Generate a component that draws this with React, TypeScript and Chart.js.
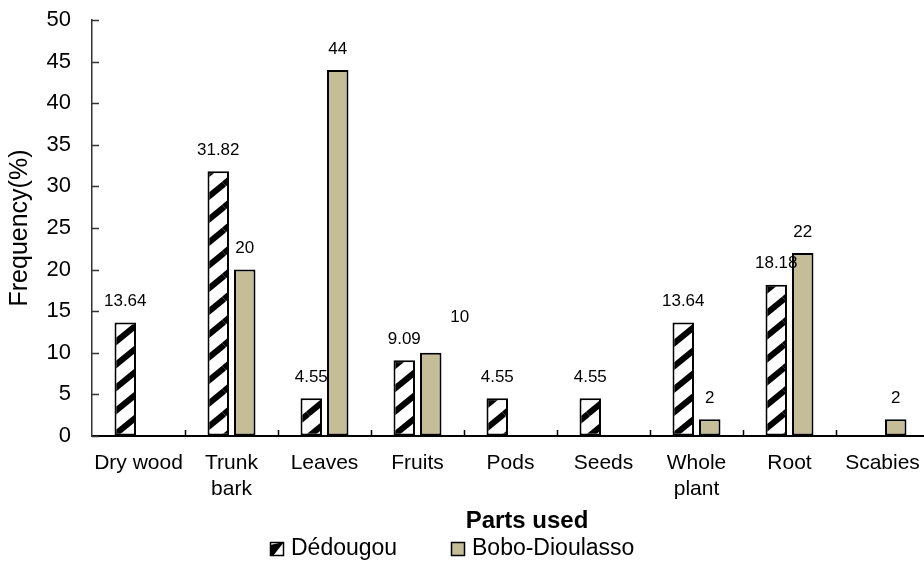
import React, { useEffect, useRef } from "react";
import { Chart, registerables } from "chart.js";

Chart.register(...registerables);

const categories = ["Dry wood", "Trunk\nbark", "Leaves", "Fruits", "Pods", "Seeds", "Whole\nplant", "Root", "Scabies"];
const dedougou: (number | null)[] = [13.64, 31.82, 4.55, 9.09, 4.55, 4.55, 13.64, 18.18, null];
const bobo: (number | null)[] = [null, 20, 44, 10, null, null, 2, 22, 2];
const seriesNames = ["Dédougou", "Bobo-Dioulasso"];
const yMin = 0;
const yMax = 50;
const yStep = 5;
const xTitle = "Parts used";
const yTitle = "Frequency(%)";

const FONT = '"Liberation Sans", Arial, Helvetica, sans-serif';
const BOBO_COLOR = "#c4bd97";
// small nudges for data labels that Excel placed off-centre: key "dataset-index"
const labelNudge: Record<string, [number, number]> = { "1-3": [29, -14] };

function makeStripePattern(): CanvasPattern | string {
  const w = 28;
  const h = 23;
  const c = document.createElement("canvas");
  c.width = w;
  c.height = h;
  const g = c.getContext("2d");
  if (!g) return "#000";
  g.fillStyle = "#fff";
  g.fillRect(0, 0, w, h);
  g.strokeStyle = "#000";
  g.lineWidth = 6;
  g.lineCap = "butt";
  for (const dx of [-w, 0, w]) {
    for (const dy of [-h, 0, h]) {
      g.beginPath();
      g.moveTo(dx, h + dy);
      g.lineTo(w + dx, dy);
      g.stroke();
    }
  }
  const p = g.createPattern(c, "repeat");
  return p || "#000";
}

const decorPlugin = {
  id: "decor",
  afterDatasetsDraw(chart: any) {
    const ctx: CanvasRenderingContext2D = chart.ctx;
    const { left, bottom } = chart.chartArea;
    const xs = chart.scales.x;
    const ys = chart.scales.y;
    ctx.save();
    // inward y ticks
    ctx.strokeStyle = "#333";
    ctx.lineWidth = 1.5;
    ys.ticks.forEach((t: any) => {
      const y = Math.round(ys.getPixelForValue(t.value)) + 0.5;
      ctx.beginPath();
      ctx.moveTo(left, y);
      ctx.lineTo(left + 7, y);
      ctx.stroke();
    });
    // inward x ticks at category boundaries
    ctx.strokeStyle = "#000";
    for (let i = 1; i < categories.length; i++) {
      const x = Math.round((xs.getPixelForValue(i - 1) + xs.getPixelForValue(i)) / 2) + 0.5;
      ctx.beginPath();
      ctx.moveTo(x, bottom);
      ctx.lineTo(x, bottom - 6);
      ctx.stroke();
    }
    // data labels
    ctx.font = `17px ${FONT}`;
    ctx.textAlign = "center";
    ctx.textBaseline = "middle";
    ctx.fillStyle = "#000";
    chart.data.datasets.forEach((ds: any, di: number) => {
      const meta = chart.getDatasetMeta(di);
      meta.data.forEach((el: any, i: number) => {
        const v = ds.data[i];
        if (v === null || v === undefined) return;
        const off = labelNudge[`${di}-${i}`] || [0, 0];
        ctx.fillText(String(v), el.x + off[0], el.y - 21 + off[1]);
      });
    });
    // x title
    ctx.font = `bold 24px ${FONT}`;
    ctx.fillText(xTitle, 527, 521);
    // legend
    const ly = 549;
    const box = 14;
    const items = [
      { x: 270, name: seriesNames[0], kind: 0 },
      { x: 451, name: seriesNames[1], kind: 1 },
    ];
    ctx.font = `23px ${FONT}`;
    ctx.textAlign = "left";
    items.forEach((it) => {
      const bx = it.x;
      const by = ly - box / 2;
      if (it.kind === 0) {
        ctx.fillStyle = "#fff";
        ctx.fillRect(bx, by, box, box);
        ctx.fillStyle = "#000";
        ctx.beginPath();
        ctx.moveTo(bx, by + 3);
        ctx.lineTo(bx, by + box);
        ctx.lineTo(bx + box - 3, by + box);
        ctx.lineTo(bx + box, by + box - 3);
        ctx.lineTo(bx + box, by);
        ctx.closePath();
        ctx.fill();
        ctx.fillStyle = "#fff";
        ctx.beginPath();
        ctx.moveTo(bx + box, by);
        ctx.lineTo(bx + box, by + box);
        ctx.lineTo(bx + 3, by + box);
        ctx.closePath();
        ctx.fill();
      } else {
        ctx.fillStyle = BOBO_COLOR;
        ctx.fillRect(bx, by, box, box);
      }
      ctx.strokeStyle = "#000";
      ctx.lineWidth = 1.5;
      ctx.strokeRect(bx + 0.5, by + 0.5, box - 1, box - 1);
      ctx.fillStyle = "#000";
      ctx.fillText(it.name, bx + 21, ly);
    });
    ctx.restore();
  },
};

export default function App() {
  const ref = useRef<HTMLCanvasElement | null>(null);
  useEffect(() => {
    const canvas = ref.current;
    if (!canvas) return;
    const pattern = makeStripePattern();
    const chart = new Chart(canvas, {
      type: "bar",
      data: {
        labels: categories,
        datasets: [
          {
            label: seriesNames[0],
            data: dedougou,
            backgroundColor: pattern as any,
            borderColor: "#000",
            borderWidth: 2,
            borderSkipped: false,
            categoryPercentage: 0.57,
            barPercentage: 0.81,
          },
          {
            label: seriesNames[1],
            data: bobo,
            backgroundColor: BOBO_COLOR,
            borderColor: "#000",
            borderWidth: 2,
            borderSkipped: false,
            categoryPercentage: 0.57,
            barPercentage: 0.81,
          },
        ],
      },
      options: {
        responsive: false,
        animation: false,
        devicePixelRatio: 1,
        layout: { padding: { left: 0, right: 1, top: 20, bottom: 0 } },
        plugins: {
          legend: { display: false },
          tooltip: { enabled: false },
          title: { display: false },
        },
        scales: {
          x: {
            type: "category",
            grid: { display: true, drawOnChartArea: false, drawTicks: true, tickLength: 15, tickColor: "rgba(0,0,0,0)" },
            border: { display: true, color: "#000", width: 2 },
            ticks: {
              color: "#000",
              font: { family: FONT, size: 21 },
              padding: 0,
              maxRotation: 0,
              minRotation: 0,
              autoSkip: false,
              callback: (_v: any, i: number) => categories[i].split("\n"),
            },
            afterFit: (scale: any) => {
              scale.height = 142;
            },
          },
          y: {
            min: yMin,
            max: yMax,
            grid: { display: true, drawOnChartArea: false, drawTicks: true, tickLength: 21, tickColor: "rgba(0,0,0,0)" },
            border: { display: true, color: "#333", width: 1.5 },
            ticks: {
              stepSize: yStep,
              color: "#000",
              font: { family: FONT, size: 22 },
              padding: 0,
            },
            title: {
              display: true,
              text: yTitle,
              color: "#000",
              font: { family: FONT, size: 25 },
              padding: { top: 5, bottom: 0 },
            },
            afterFit: (scale: any) => {
              scale.width = 92;
            },
          },
        },
      },
      plugins: [decorPlugin],
    });
    return () => chart.destroy();
  }, []);
  return (
    <div style={{ position: "fixed", left: 0, top: 0, width: 924, height: 578, overflow: "hidden", background: "#fff" }}>
      <canvas ref={ref} width={930} height={578} style={{ display: "block", width: 930, height: 578 }} />
    </div>
  );
}
